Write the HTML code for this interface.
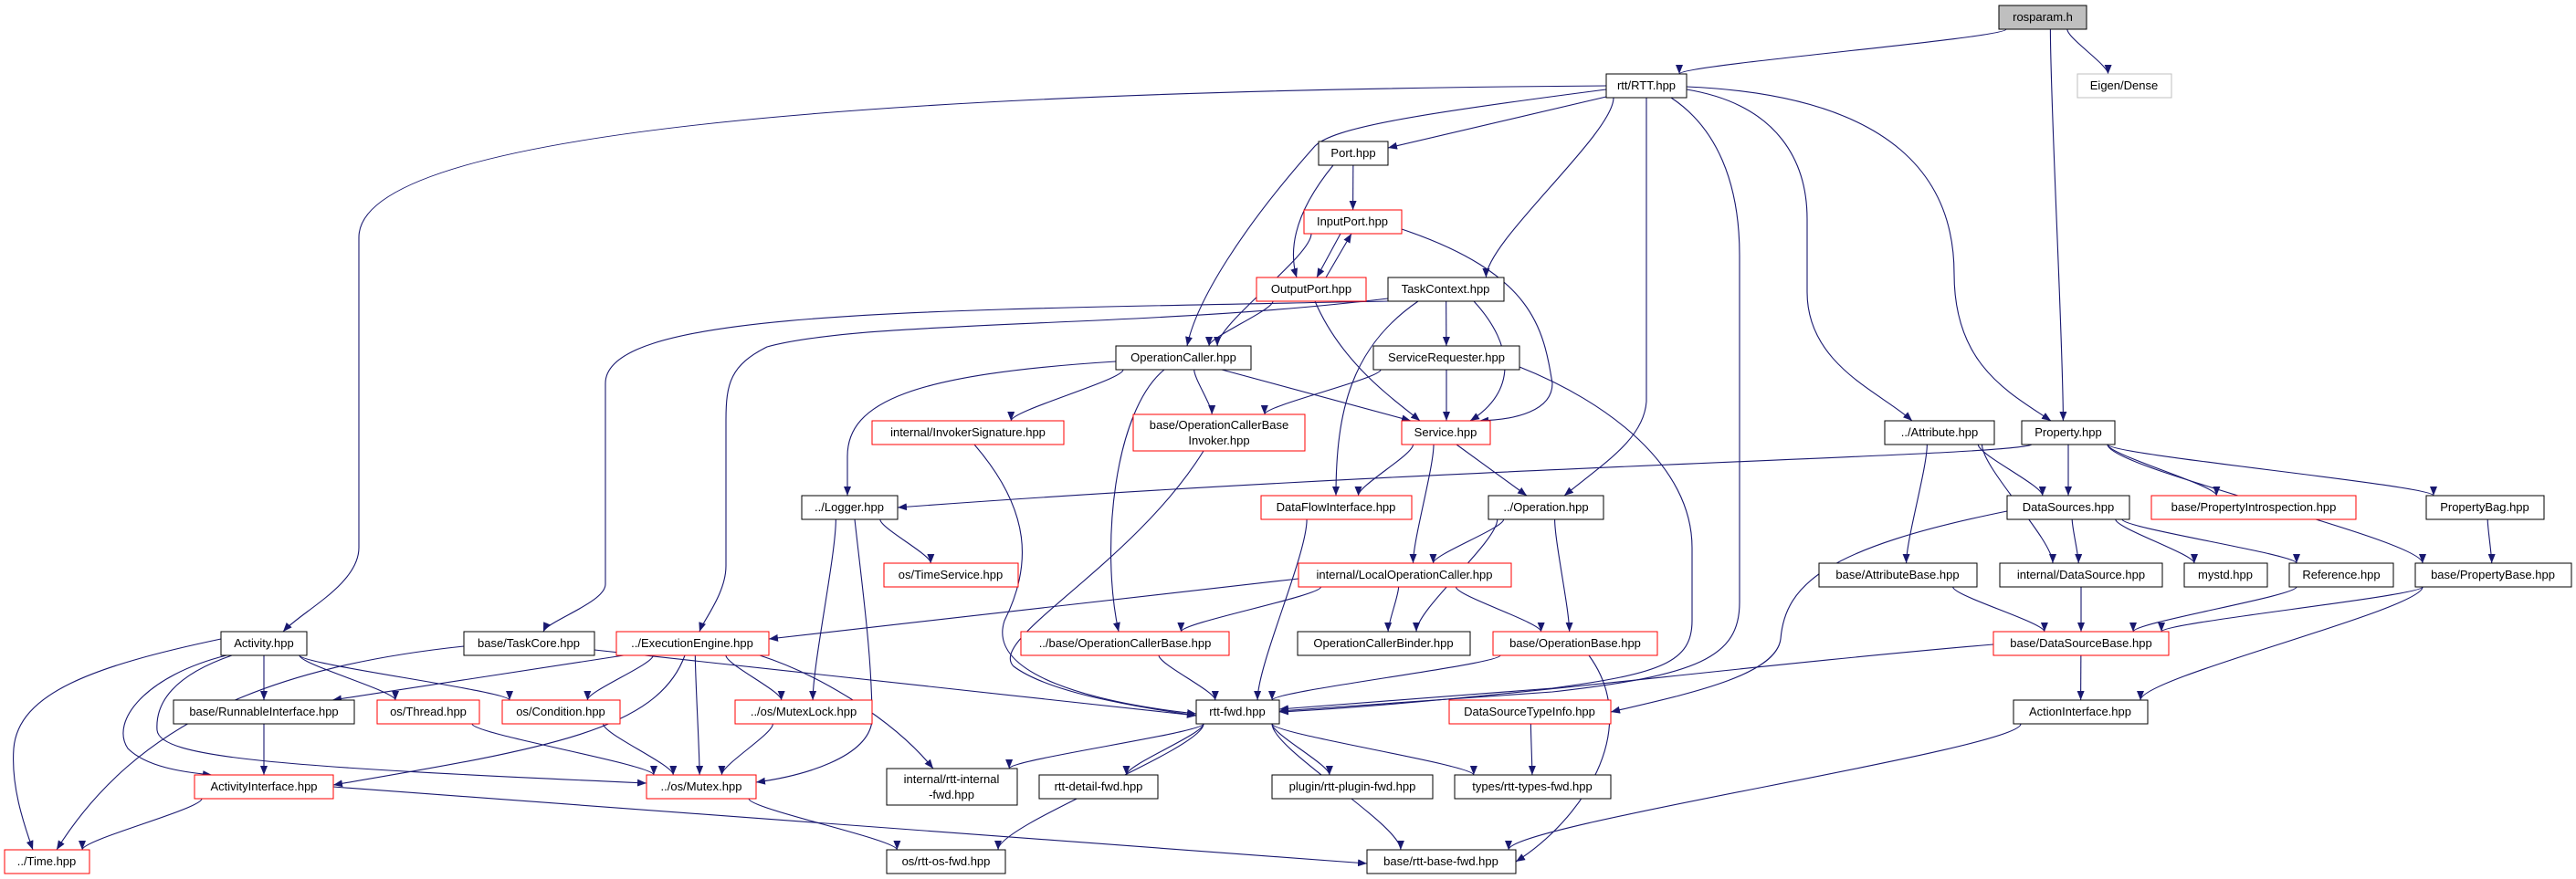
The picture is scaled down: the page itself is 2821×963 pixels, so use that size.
<!DOCTYPE html>
<html><head><meta charset="utf-8"><style>
html,body{margin:0;padding:0;background:#fff;}
svg{display:block;}
text{font-family:"Liberation Sans",sans-serif;font-size:13px;fill:#000;}
</style></head><body>
<svg id="g" xmlns="http://www.w3.org/2000/svg" width="2821" height="963" viewBox="0 0 2821 963">
<defs><marker id="a" viewBox="0 0 10 8" refX="10" refY="4" markerWidth="10" markerHeight="8" markerUnits="userSpaceOnUse" orient="auto"><path d="M0,0 L10,4 L0,8 z" fill="#191970"/></marker></defs>
<g id="edges" fill="none" stroke="#191970" stroke-width="1.1"></g>
<g id="nodes">
<rect x="2189" y="6" width="96" height="26" fill="#bfbfbf" stroke="#000"/><text x="2237" y="23" text-anchor="middle">rosparam.h</text>
<rect x="1759" y="81" width="88" height="26" fill="#fff" stroke="#000"/><text x="1803" y="98" text-anchor="middle">rtt/RTT.hpp</text>
<rect x="2275" y="81" width="103" height="26" fill="#fff" stroke="#bfbfbf"/><text x="2326" y="98" text-anchor="middle">Eigen/Dense</text>
<rect x="1444" y="155" width="76" height="26" fill="#fff" stroke="#000"/><text x="1482" y="172" text-anchor="middle">Port.hpp</text>
<rect x="1428" y="230" width="107" height="26" fill="#fff" stroke="#f00"/><text x="1481" y="247" text-anchor="middle">InputPort.hpp</text>
<rect x="1376" y="304" width="120" height="26" fill="#fff" stroke="#f00"/><text x="1436" y="321" text-anchor="middle">OutputPort.hpp</text>
<rect x="1520" y="304" width="127" height="26" fill="#fff" stroke="#000"/><text x="1583" y="321" text-anchor="middle">TaskContext.hpp</text>
<rect x="1222" y="379" width="148" height="26" fill="#fff" stroke="#000"/><text x="1296" y="396" text-anchor="middle">OperationCaller.hpp</text>
<rect x="1504" y="379" width="160" height="26" fill="#fff" stroke="#000"/><text x="1584" y="396" text-anchor="middle">ServiceRequester.hpp</text>
<rect x="955" y="461" width="210" height="26" fill="#fff" stroke="#f00"/><text x="1060" y="478" text-anchor="middle">internal/InvokerSignature.hpp</text>
<rect x="1241" y="454" width="188" height="40" fill="#fff" stroke="#f00"/><text x="1335" y="470" text-anchor="middle">base/OperationCallerBase</text><text x="1335" y="487" text-anchor="middle">Invoker.hpp</text>
<rect x="1535" y="461" width="97" height="26" fill="#fff" stroke="#f00"/><text x="1583" y="478" text-anchor="middle">Service.hpp</text>
<rect x="2064" y="461" width="120" height="26" fill="#fff" stroke="#000"/><text x="2124" y="478" text-anchor="middle">../Attribute.hpp</text>
<rect x="2214" y="461" width="102" height="26" fill="#fff" stroke="#000"/><text x="2265" y="478" text-anchor="middle">Property.hpp</text>
<rect x="878" y="543" width="105" height="26" fill="#fff" stroke="#000"/><text x="930" y="560" text-anchor="middle">../Logger.hpp</text>
<rect x="1381" y="543" width="165" height="26" fill="#fff" stroke="#f00"/><text x="1463" y="560" text-anchor="middle">DataFlowInterface.hpp</text>
<rect x="1630" y="543" width="126" height="26" fill="#fff" stroke="#000"/><text x="1693" y="560" text-anchor="middle">../Operation.hpp</text>
<rect x="2198" y="543" width="134" height="26" fill="#fff" stroke="#000"/><text x="2265" y="560" text-anchor="middle">DataSources.hpp</text>
<rect x="2356" y="543" width="224" height="26" fill="#fff" stroke="#f00"/><text x="2468" y="560" text-anchor="middle">base/PropertyIntrospection.hpp</text>
<rect x="2657" y="543" width="129" height="26" fill="#fff" stroke="#000"/><text x="2721" y="560" text-anchor="middle">PropertyBag.hpp</text>
<rect x="968" y="617" width="147" height="26" fill="#fff" stroke="#f00"/><text x="1041" y="634" text-anchor="middle">os/TimeService.hpp</text>
<rect x="1422" y="617" width="233" height="26" fill="#fff" stroke="#f00"/><text x="1538" y="634" text-anchor="middle">internal/LocalOperationCaller.hpp</text>
<rect x="1992" y="617" width="173" height="26" fill="#fff" stroke="#000"/><text x="2078" y="634" text-anchor="middle">base/AttributeBase.hpp</text>
<rect x="2190" y="617" width="178" height="26" fill="#fff" stroke="#000"/><text x="2279" y="634" text-anchor="middle">internal/DataSource.hpp</text>
<rect x="2392" y="617" width="91" height="26" fill="#fff" stroke="#000"/><text x="2437" y="634" text-anchor="middle">mystd.hpp</text>
<rect x="2507" y="617" width="114" height="26" fill="#fff" stroke="#000"/><text x="2564" y="634" text-anchor="middle">Reference.hpp</text>
<rect x="2645" y="617" width="171" height="26" fill="#fff" stroke="#000"/><text x="2730" y="634" text-anchor="middle">base/PropertyBase.hpp</text>
<rect x="242" y="692" width="94" height="26" fill="#fff" stroke="#000"/><text x="289" y="709" text-anchor="middle">Activity.hpp</text>
<rect x="508" y="692" width="143" height="26" fill="#fff" stroke="#000"/><text x="579" y="709" text-anchor="middle">base/TaskCore.hpp</text>
<rect x="675" y="692" width="167" height="26" fill="#fff" stroke="#f00"/><text x="758" y="709" text-anchor="middle">../ExecutionEngine.hpp</text>
<rect x="1118" y="692" width="228" height="26" fill="#fff" stroke="#f00"/><text x="1232" y="709" text-anchor="middle">../base/OperationCallerBase.hpp</text>
<rect x="1421" y="692" width="189" height="26" fill="#fff" stroke="#000"/><text x="1515" y="709" text-anchor="middle">OperationCallerBinder.hpp</text>
<rect x="1635" y="692" width="180" height="26" fill="#fff" stroke="#f00"/><text x="1725" y="709" text-anchor="middle">base/OperationBase.hpp</text>
<rect x="2183" y="692" width="192" height="26" fill="#fff" stroke="#f00"/><text x="2279" y="709" text-anchor="middle">base/DataSourceBase.hpp</text>
<rect x="190" y="767" width="198" height="26" fill="#fff" stroke="#000"/><text x="289" y="784" text-anchor="middle">base/RunnableInterface.hpp</text>
<rect x="413" y="767" width="112" height="26" fill="#fff" stroke="#f00"/><text x="469" y="784" text-anchor="middle">os/Thread.hpp</text>
<rect x="550" y="767" width="129" height="26" fill="#fff" stroke="#f00"/><text x="614" y="784" text-anchor="middle">os/Condition.hpp</text>
<rect x="805" y="767" width="150" height="26" fill="#fff" stroke="#f00"/><text x="880" y="784" text-anchor="middle">../os/MutexLock.hpp</text>
<rect x="1310" y="767" width="91" height="26" fill="#fff" stroke="#000"/><text x="1355" y="784" text-anchor="middle">rtt-fwd.hpp</text>
<rect x="1587" y="767" width="177" height="26" fill="#fff" stroke="#f00"/><text x="1675" y="784" text-anchor="middle">DataSourceTypeInfo.hpp</text>
<rect x="2205" y="767" width="147" height="26" fill="#fff" stroke="#000"/><text x="2278" y="784" text-anchor="middle">ActionInterface.hpp</text>
<rect x="213" y="849" width="152" height="26" fill="#fff" stroke="#f00"/><text x="289" y="866" text-anchor="middle">ActivityInterface.hpp</text>
<rect x="708" y="849" width="120" height="26" fill="#fff" stroke="#f00"/><text x="768" y="866" text-anchor="middle">../os/Mutex.hpp</text>
<rect x="971" y="842" width="143" height="40" fill="#fff" stroke="#000"/><text x="1042" y="858" text-anchor="middle">internal/rtt-internal</text><text x="1042" y="875" text-anchor="middle">-fwd.hpp</text>
<rect x="1138" y="849" width="130" height="26" fill="#fff" stroke="#000"/><text x="1203" y="866" text-anchor="middle">rtt-detail-fwd.hpp</text>
<rect x="1393" y="849" width="176" height="26" fill="#fff" stroke="#000"/><text x="1481" y="866" text-anchor="middle">plugin/rtt-plugin-fwd.hpp</text>
<rect x="1593" y="849" width="171" height="26" fill="#fff" stroke="#000"/><text x="1678" y="866" text-anchor="middle">types/rtt-types-fwd.hpp</text>
<rect x="5" y="931" width="93" height="26" fill="#fff" stroke="#f00"/><text x="51" y="948" text-anchor="middle">../Time.hpp</text>
<rect x="971" y="931" width="130" height="26" fill="#fff" stroke="#000"/><text x="1036" y="948" text-anchor="middle">os/rtt-os-fwd.hpp</text>
<rect x="1497" y="931" width="163" height="26" fill="#fff" stroke="#000"/><text x="1578" y="948" text-anchor="middle">base/rtt-base-fwd.hpp</text>
</g>
</svg>
<script>
var N={ros:[2189,6,96,26],rtt:[1759,81,88,26],eig:[2275,81,103,26],port:[1444,155,76,26],inp:[1428,230,107,26],out:[1376,304,120,26],tc:[1520,304,127,26],oc:[1222,379,148,26],sr:[1504,379,160,26],inv:[955,461,210,26],ocbi:[1241,454,188,40],svc:[1535,461,97,26],attr:[2064,461,120,26],prop:[2214,461,102,26],log:[878,543,105,26],dfi:[1381,543,165,26],op:[1630,543,126,26],dss:[2198,543,134,26],pi:[2356,543,224,26],pbag:[2657,543,129,26],ts:[968,617,147,26],loc:[1422,617,233,26],ab:[1992,617,173,26],ids:[2190,617,178,26],my:[2392,617,91,26],ref:[2507,617,114,26],pb:[2645,617,171,26],act:[242,692,94,26],tcore:[508,692,143,26],ee:[675,692,167,26],ocb:[1118,692,228,26],ocbd:[1421,692,189,26],ob:[1635,692,180,26],dsb:[2183,692,192,26],run:[190,767,198,26],thr:[413,767,112,26],cond:[550,767,129,26],ml:[805,767,150,26],fwd:[1310,767,91,26],dsti:[1587,767,177,26],ai:[2205,767,147,26],aif:[213,849,152,26],mtx:[708,849,120,26],ifwd:[971,842,143,40],dfwd:[1138,849,130,26],pfwd:[1393,849,176,26],tfwd:[1593,849,171,26],time:[5,931,93,26],osf:[971,931,130,26],bfwd:[1497,931,163,26]};
var M={
"rtt-act":"M1759,94 C900,100 393,150 393,260 L393,600 C393,640 330,670 310,692",
"tc-tcore":"M1520,330 C1000,340 663,340 663,420 L663,640 C663,660 600,680 595,692",
"tc-ee":"M1520,327 C1250,360 950,350 840,380 C800,400 795,420 795,460 L795,620 C795,650 770,680 766,692",
"oc-log":"M1222,396 C1000,410 928,440 928,500 L928,543",
"prop-log":"M2225,487 C2200,500 1600,510 983,556",
"loc-ee":"M1422,634 L842,700",
"tcore-fwd":"M651,712 L1310,784",
"aif-bfwd":"M365,862 L1497,946",
"dsb-fwd":"M2183,706 C1900,730 1600,770 1401,780",
"sr-fwd":"M1664,402 C1760,440 1853,510 1853,600 L1853,680 C1853,725 1820,738 1700,754 L1401,777",
"rtt-fwd":"M1830,107 C1880,140 1905,200 1905,280 L1905,660 C1905,720 1860,740 1700,758 L1401,779",
"rtt-op":"M1803,107 L1803,440 C1800,480 1760,505 1713,543",
"rtt-attr":"M1847,98 C1950,115 1979,180 1979,240 L1979,320 C1979,400 2060,430 2094,461",
"inp-svc":"M1535,251 C1680,300 1690,360 1700,420 C1700,450 1660,460 1620,461",
"ee-ifwd":"M832,718 C900,740 980,790 1022,842",
"act-time":"M242,700 C100,730 20,760 15,820 C12,860 25,900 36,931",
"dss-dsti":"M2198,560 C2000,600 1955,640 1950,700 C1945,740 1850,760 1764,780",
"ob-bfwd":"M1740,718 C1800,800 1730,900 1660,944",
"inv-fwd":"M1067,487 C1130,560 1130,620 1100,680 C1080,740 1200,770 1310,782",
"ocbi-fwd":"M1318,494 C1240,620 1080,700 1110,730 C1150,760 1250,775 1310,784",
"oc-ocb":"M1275,405 C1220,450 1205,600 1225,692",
"tc-dfi":"M1553,330 C1480,380 1463,450 1463,543",
"inp-out":"M1468,256 L1442,304",
"out-inp":"M1452,304 L1480,256",
"port-out":"M1460,181 C1420,230 1410,270 1420,304",
"rtt-oc":"M1759,98 C1550,125 1460,140 1440,160 C1360,250 1310,330 1300,379",
"rtt-port":"M1759,106 L1520,162",
"rtt-prop":"M1847,95 C2080,105 2140,200 2140,300 C2140,400 2200,430 2246,461",
"svc-op":"M1595,487 L1672,543",
"sr-svc":"M1584,405 L1584,461",
"tc-svc":"M1614,330 C1660,380 1660,430 1610,461",
"out-svc":"M1440,330 C1470,400 1530,440 1555,461",
"oc-svc":"M1338,405 L1545,461",
"act-aif":"M248,718 C160,740 120,790 140,820 C160,840 200,846 232,849",
"act-mtx":"M254,718 C190,740 170,770 172,800 C175,830 300,840 708,858",
"ee-aif":"M750,718 C720,800 600,820 365,860",
"ee-run":"M683,718 L364,767",
"log-mtx":"M936,569 C945,650 955,720 955,790 C950,830 880,850 828,857",
"tcore-time":"M508,708 C300,730 150,790 62,931"
};
var E=[["ros","rtt"],["ros","eig"],["ros","prop"],["rtt","act"],["rtt","oc"],["rtt","port"],["rtt","tc"],["rtt","fwd"],["rtt","op"],["rtt","attr"],["rtt","prop"],
["port","inp"],["port","out"],["inp","out"],["out","inp"],["inp","oc"],["inp","svc"],["out","oc"],["out","svc"],
["tc","sr"],["tc","svc"],["tc","dfi"],["tc","tcore"],["tc","ee"],
["sr","svc"],["sr","ocbi"],["sr","fwd"],["oc","inv"],["oc","ocbi"],["oc","svc"],["oc","ocb"],["oc","log"],
["inv","fwd"],["ocbi","fwd"],["svc","dfi"],["svc","op"],["svc","loc"],["prop","log"],["dfi","fwd"],
["op","loc"],["op","ocbd"],["op","ob"],["log","ts"],["log","ml"],["log","mtx"],
["loc","ee"],["loc","ocb"],["loc","ocbd"],["loc","ob"],["ocb","fwd"],["ob","fwd"],["ob","bfwd"],["dsb","fwd"],
["dss","dsti"],["dss","ids"],["dss","my"],["dss","ref"],["attr","dss"],["attr","ab"],["attr","ids"],
["prop","dss"],["prop","pi"],["prop","pbag"],["prop","pb"],["pbag","pb"],["ab","dsb"],["ids","dsb"],["ref","dsb"],["pb","dsb"],["pb","ai"],["dsb","ai"],["ai","bfwd"],["dsti","tfwd"],
["fwd","ifwd"],["fwd","dfwd"],["fwd","pfwd"],["fwd","tfwd"],["fwd","osf"],["fwd","bfwd"],
["act","time"],["act","aif"],["act","run"],["act","thr"],["act","cond"],["act","mtx"],["tcore","time"],["tcore","fwd"],
["ee","run"],["ee","cond"],["ee","mtx"],["ee","ml"],["ee","aif"],["ee","ifwd"],["thr","mtx"],["cond","mtx"],["ml","mtx"],["run","aif"],["aif","time"],["aif","bfwd"],["mtx","osf"]];
var g=document.getElementById("edges"),s="";
function cl(v,a,b){return Math.max(a,Math.min(b,v));}
E.forEach(function(e){var k=e[0]+"-"+e[1];
if(M[k]){s+='<path marker-end="url(#a)" d="'+M[k]+'"/>';return;}
var a=N[e[0]],b=N[e[1]];
var acx=a[0]+a[2]/2,bcx=b[0]+b[2]/2;
var sx=cl(acx+(bcx-acx)*0.3,a[0]+8,a[0]+a[2]-8),sy=a[1]+a[3];
var tx=cl(bcx+(acx-bcx)*0.2,b[0]+8,b[0]+b[2]-8),ty=b[1];
var dy=ty-sy;
s+='<path marker-end="url(#a)" d="M'+sx+','+sy+' C'+sx+','+(sy+dy*0.2)+' '+tx+','+(ty-dy*0.2)+' '+tx+','+ty+'"/>';
});
g.innerHTML=s;
</script>
</body></html>
